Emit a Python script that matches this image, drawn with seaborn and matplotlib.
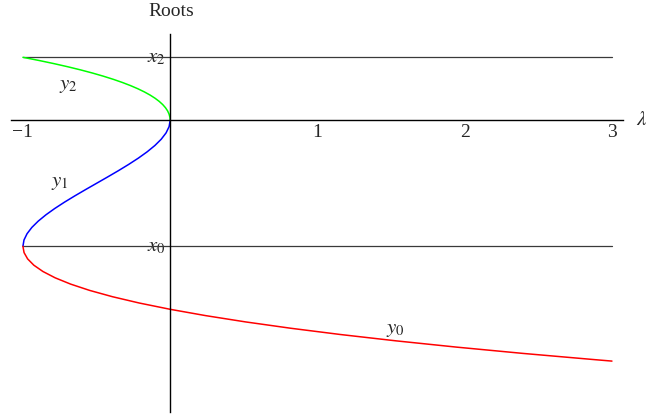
import matplotlib
matplotlib.use("Agg")
import matplotlib.pyplot as plt
import seaborn as sns
import pandas as pd

green_root = [1.00, 0.95, 0.90, 0.85, 0.80, 0.75, 0.70, 0.65, 0.60, 0.55, 0.50,
              0.45, 0.40, 0.35, 0.30, 0.25, 0.20, 0.15, 0.10, 0.05, 0.00]
green_lam = [-1.0, -0.8912, -0.7898, -0.6954, -0.608, -0.5273, -0.4533, -0.3855, -0.324,
             -0.2685, -0.2188, -0.1747, -0.136, -0.1026, -0.0743, -0.0508, -0.032,
             -0.0177, -0.0078, -0.0019, 0.0]

blue_root = [0.0, -0.1, -0.2, -0.3, -0.4, -0.5, -0.6, -0.7, -0.8, -0.9, -1.0,
             -1.1, -1.2, -1.3, -1.4, -1.5, -1.6, -1.7, -1.8, -1.9, -2.0]
blue_lam = [0.0, -0.0073, -0.028, -0.0608, -0.104, -0.1563, -0.216, -0.2818, -0.352,
            -0.4253, -0.5, -0.5748, -0.648, -0.7183, -0.784, -0.8438, -0.896, -0.9393,
            -0.972, -0.9928, -1.0]

red_root = [-2.0, -2.1, -2.2, -2.3, -2.4, -2.5, -2.6, -2.7, -2.8, -2.9, -3.0,
            -3.1, -3.2, -3.3, -3.4, -3.5, -3.6, -3.7, -3.8, -3.822]
red_lam = [-1.0, -0.9923, -0.968, -0.9258, -0.864, -0.7813, -0.676, -0.5468, -0.392,
           -0.2103, 0.0, 0.2403, 0.512, 0.8168, 1.156, 1.5313, 1.944, 2.3958, 2.888, 3.0]

# Reference levels x2 and x0
level_names = ["x_2", "x_0"]
level_values = [1.0, -2.0]
level_lam_range = [-1.0, 3.0]

x_ticks = [-1, 1, 2, 3]

sns.set_style("white")
plt.rcParams["font.family"] = ["Liberation Serif", "DejaVu Serif"]
plt.rcParams["mathtext.fontset"] = "stix"

fig = plt.figure(figsize=(6.48, 4.17), dpi=100)
ax = fig.add_axes([11 / 648, 1 - 412 / 417, (623 - 11) / 648, (412 - 34) / 417])

# reference lines
for name, val in zip(level_names, level_values):
    sns.lineplot(x=level_lam_range, y=[val, val], ax=ax, color="#3a3a3a",
                 linewidth=0.9, estimator=None, sort=False, legend=False)

df = pd.DataFrame({
    "lam": green_lam + blue_lam + red_lam,
    "root": green_root + blue_root + red_root,
    "branch": ["y2"] * len(green_lam) + ["y1"] * len(blue_lam) + ["y0"] * len(red_lam),
})
sns.lineplot(data=df, x="lam", y="root", hue="branch", estimator=None, sort=False,
             palette={"y2": "#00ff00", "y1": "#0000ff", "y0": "#ff0000"},
             linewidth=1.1, legend=False, ax=ax)

ax.set_xlim(-1.081, 3.075)
ax.set_ylim(-4.63, 1.37)
ax.set_xlabel("")
ax.set_ylabel("")

for s in ["top", "right"]:
    ax.spines[s].set_visible(False)
ax.spines["left"].set_position(("data", 0))
ax.spines["bottom"].set_position(("data", 0))
for s in ["left", "bottom"]:
    ax.spines[s].set_linewidth(1.0)
    ax.spines[s].set_color("black")

ax.set_xticks(x_ticks)
ax.set_xticklabels(["\u22121", "1", "2", "3"])
ax.set_yticks(level_values)
ax.set_yticklabels([r"$x_2$", r"$x_0$"])
ax.tick_params(axis="x", direction="in", length=6, width=0.8, pad=3, labelsize=14)
ax.tick_params(axis="y", direction="in", length=6, width=0.8, pad=3, labelsize=15)
for lbl in ax.get_yticklabels():
    lbl.set_verticalalignment("center")

ax.text(-0.694, 0.56, r"$y_2$", fontsize=15, ha="center", va="center")
ax.text(-0.749, -0.99, r"$y_1$", fontsize=15, ha="center", va="center")
ax.text(1.53, -3.32, r"$y_0$", fontsize=15, ha="center", va="center")
ax.text(3.165, 0.0, r"$\lambda$", fontsize=15, ha="left", va="center", clip_on=False)

fig.text(171 / 648, 1 - 12 / 417, "Roots", fontsize=14, ha="center", va="center")

fig.savefig("out.png", dpi=100, facecolor="white")
